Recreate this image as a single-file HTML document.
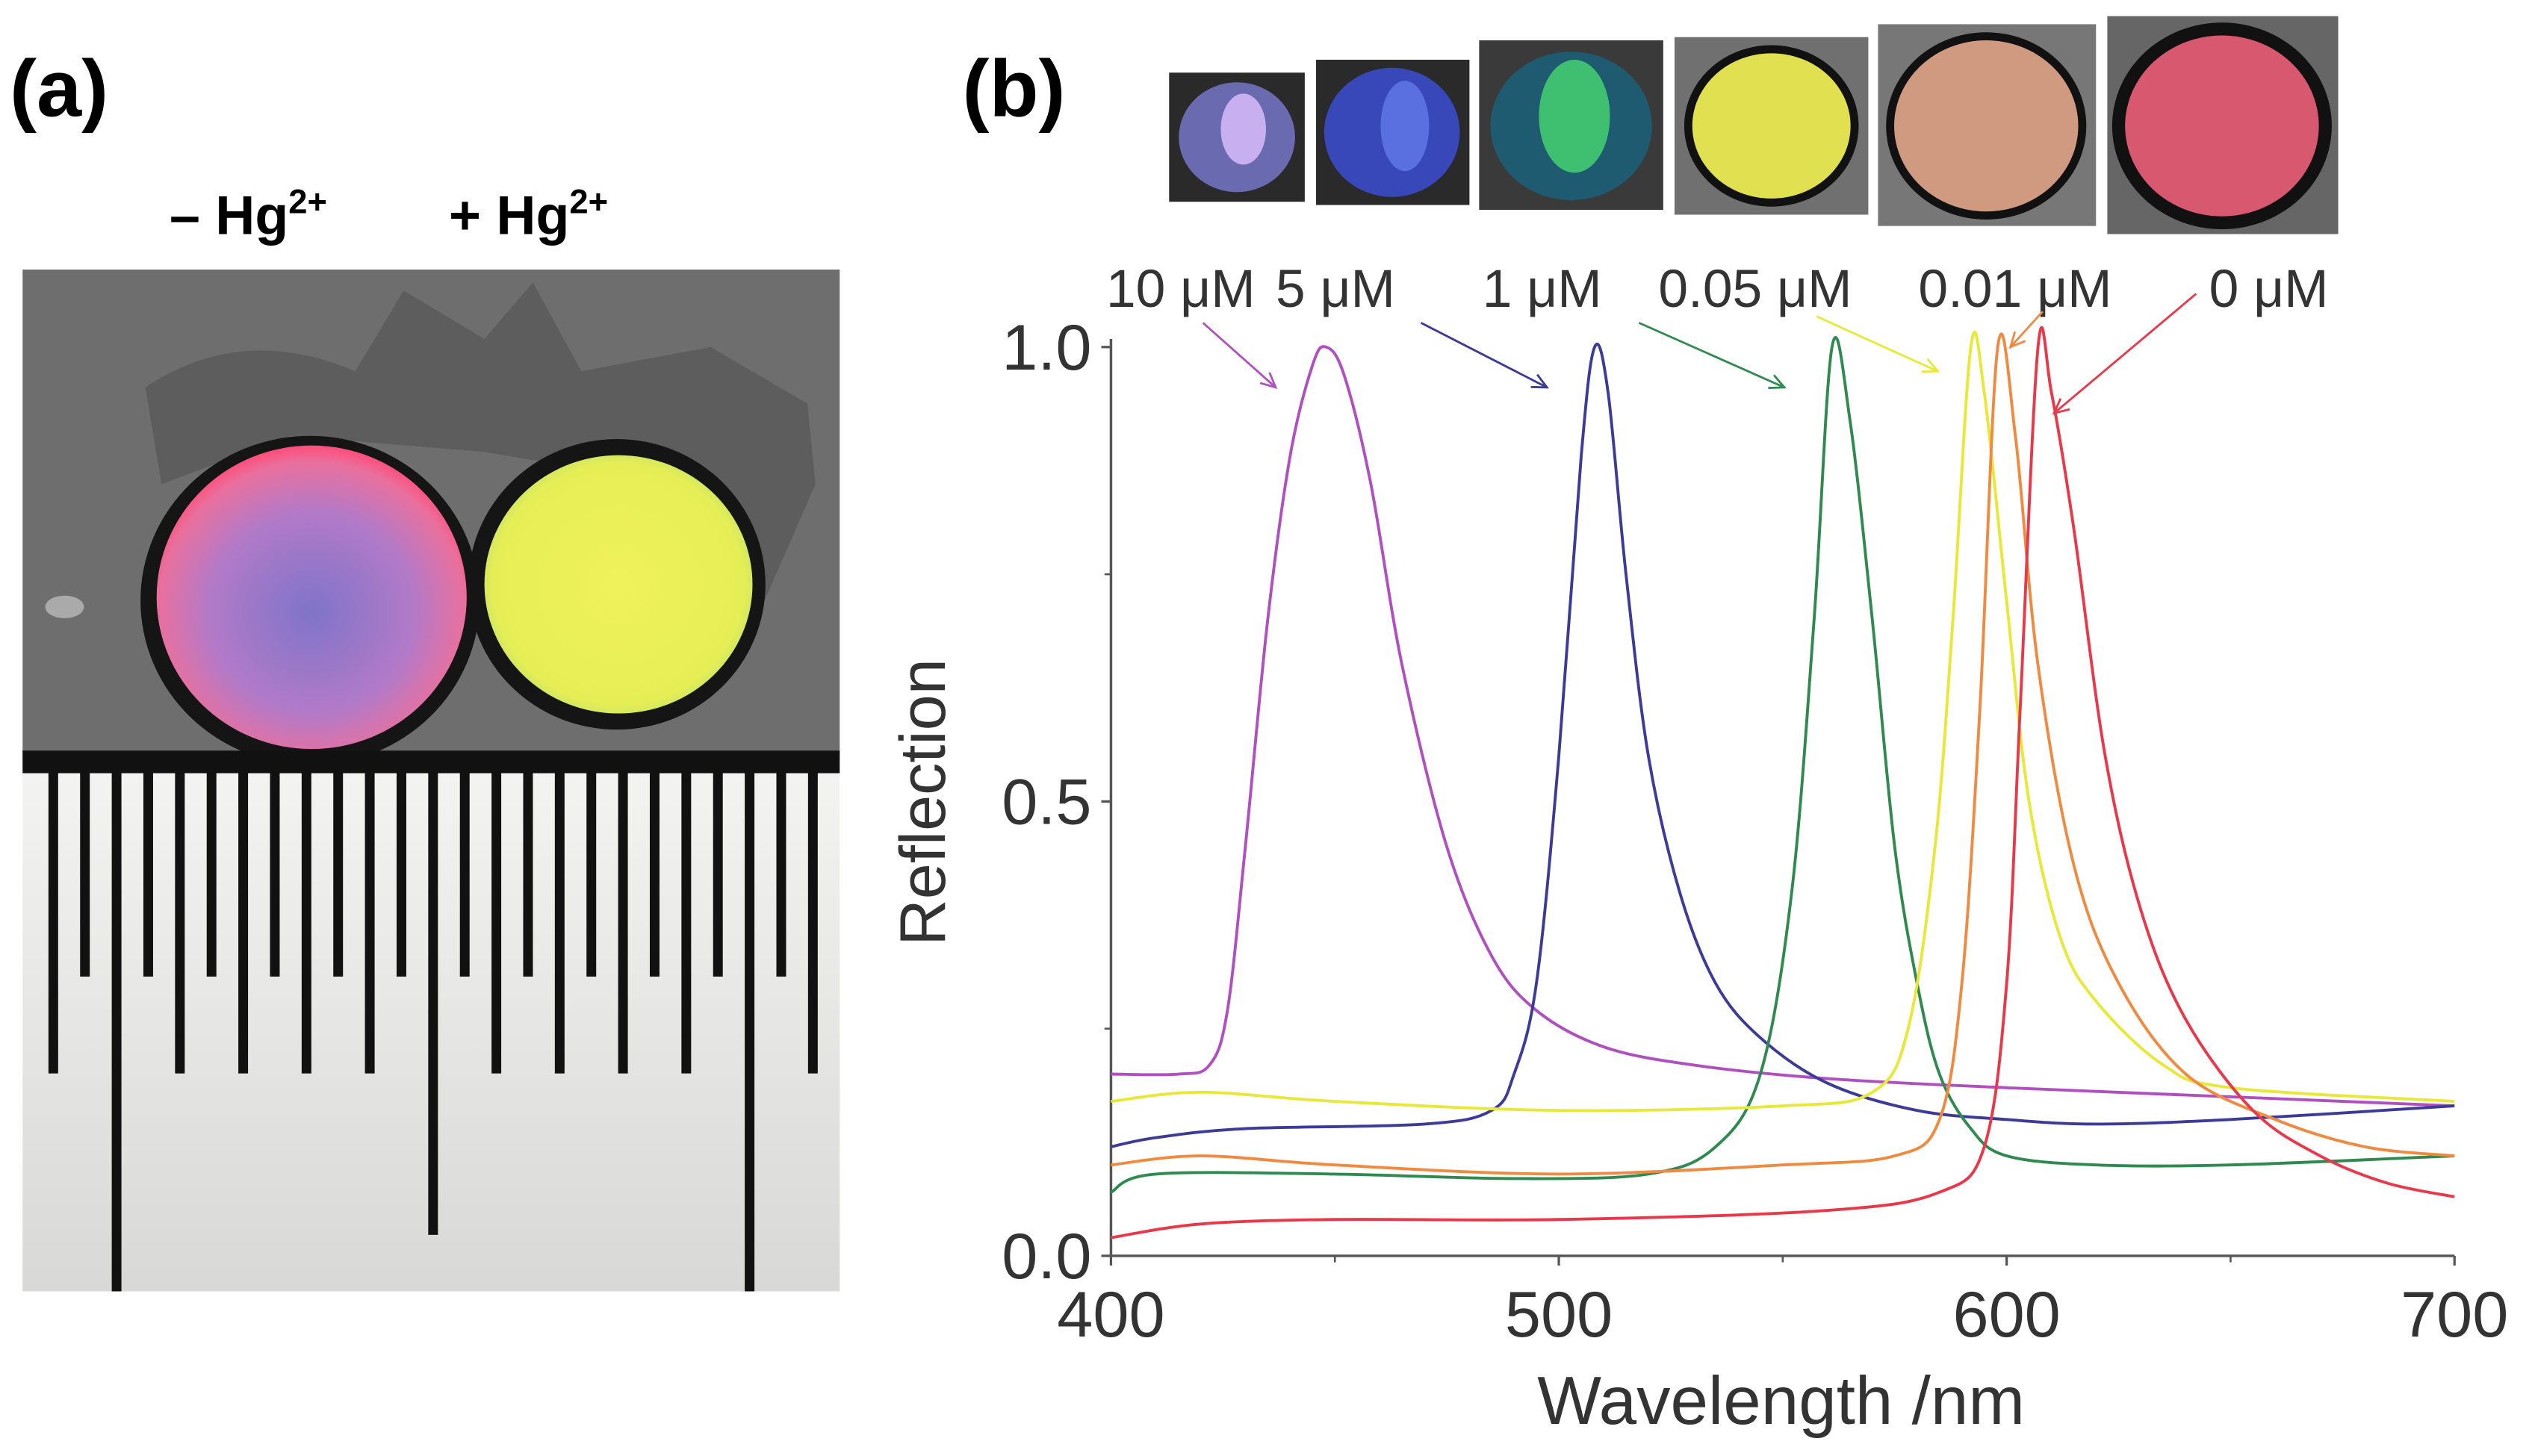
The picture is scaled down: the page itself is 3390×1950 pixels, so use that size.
<!DOCTYPE html>
<html><head><meta charset="utf-8"><style>
html,body{margin:0;padding:0;background:#fff;}
svg{display:block;}
text{font-family:"Liberation Sans",sans-serif;}
</style></head><body>
<svg id="fig" width="3390" height="1950" viewBox="0 0 1568 902" preserveAspectRatio="none" xmlns="http://www.w3.org/2000/svg">
<defs>
<radialGradient id="pinkG" cx="50%" cy="55%" r="55%"><stop offset="0" stop-color="#7f74c8"/><stop offset="0.6" stop-color="#b27ac8"/><stop offset="0.9" stop-color="#e9709e"/><stop offset="1" stop-color="#ff4d7a"/></radialGradient>
<radialGradient id="yelG" cx="50%" cy="50%" r="55%"><stop offset="0" stop-color="#f0f25a"/><stop offset="0.85" stop-color="#e6ee56"/><stop offset="1" stop-color="#b8e070"/></radialGradient>
<linearGradient id="rulerG" x1="0" y1="0" x2="0" y2="1"><stop offset="0" stop-color="#f4f4f2"/><stop offset="1" stop-color="#d8d8d6"/></linearGradient>
</defs>

<text x="6" y="72" font-size="50" font-weight="bold">(a)</text>
<text x="105" y="145" font-size="34" font-weight="bold">– Hg<tspan font-size="21" dy="-13">2+</tspan></text>
<text x="278" y="145" font-size="34" font-weight="bold">+ Hg<tspan font-size="21" dy="-13">2+</tspan></text>

<g>
<rect x="14" y="167" width="506" height="305" fill="#6e6e6e"/>
<path d="M90 240 Q150 200 220 230 L250 180 L300 210 L330 175 L360 230 L440 215 L500 250 L505 300 L470 380 L420 300 L300 280 L180 270 L100 300 Z" fill="#5d5d5d"/>
<ellipse cx="192" cy="372" rx="105" ry="102" fill="#151515"/>
<ellipse cx="382" cy="362" rx="92" ry="90" fill="#151515"/>
<ellipse cx="193" cy="370" rx="96" ry="94" fill="url(#pinkG)"/>
<ellipse cx="383" cy="362" rx="83" ry="80" fill="url(#yelG)"/>
<ellipse cx="40" cy="376" rx="12" ry="7" fill="#aaa"/>
<rect x="14" y="468" width="506" height="332" fill="url(#rulerG)"/>
<rect x="14" y="465" width="506" height="14" fill="#111"/>
<g id="ticks"></g>
</g>

<text x="596" y="72" font-size="50" font-weight="bold">(b)</text>
<g>
<rect x="724" y="45" width="84" height="80" fill="#2a2a2a"/><ellipse cx="766" cy="85" rx="36" ry="34" fill="#6a6ab0"/><ellipse cx="770" cy="80" rx="14" ry="22" fill="#c8b0f0"/>
<rect x="815" y="37" width="95" height="90" fill="#2a2a2a"/><ellipse cx="862" cy="82" rx="42" ry="40" fill="#3848b8"/><ellipse cx="870" cy="78" rx="15" ry="28" fill="#5a70e0"/>
<rect x="916" y="25" width="114" height="105" fill="#3a3a3a"/><ellipse cx="973" cy="78" rx="50" ry="46" fill="#1e5a70"/><ellipse cx="975" cy="72" rx="22" ry="35" fill="#3ec070"/>
<rect x="1037" y="23" width="120" height="110" fill="#707070"/><ellipse cx="1097" cy="78" rx="54" ry="50" fill="#111"/><ellipse cx="1097" cy="78" rx="49" ry="45" fill="#e0e050"/>
<rect x="1163" y="15" width="135" height="125" fill="#777"/><ellipse cx="1230" cy="78" rx="62" ry="58" fill="#111"/><ellipse cx="1230" cy="78" rx="57" ry="53" fill="#d09a80"/>
<rect x="1305" y="10" width="143" height="135" fill="#666"/><ellipse cx="1376" cy="78" rx="68" ry="64" fill="#111"/><ellipse cx="1376" cy="78" rx="60" ry="56" fill="#d85870"/>
</g>

<g id="chart"></g>
</svg>
<script>
const NS="http://www.w3.org/2000/svg";
const seriesNames=["10 μM","5 μM","1 μM","0.05 μM","0.01 μM","0 μM"];
const seriesColors=["#b050c0","#3c3c98","#2f8a4f","#e8e838","#f08a40","#e8384a"];
const wl10=[400,415,422,426,430,435,440,445,448,452,458,465,475,485,495,510,530,560,600,650,700];
const r10=[0.2,0.2,0.21,0.27,0.45,0.7,0.88,0.98,1.0,0.97,0.85,0.65,0.45,0.33,0.27,0.23,0.21,0.195,0.185,0.175,0.165];
const wl5=[400,410,430,470,485,490,495,500,505,508,511,515,520,527,535,545,560,580,600,620,650,700];
const r5=[0.12,0.13,0.14,0.145,0.16,0.2,0.3,0.55,0.88,1.0,0.95,0.75,0.55,0.4,0.3,0.24,0.19,0.16,0.15,0.145,0.15,0.165];
const wl1=[400,410,450,490,520,535,545,552,557,561,565,570,575,580,585,592,600,620,650,700];
const r1=[0.07,0.09,0.09,0.085,0.09,0.12,0.2,0.4,0.7,1.0,0.92,0.7,0.45,0.3,0.2,0.14,0.11,0.1,0.1,0.11];
const wl005=[400,420,450,500,550,570,578,584,588,592,595,600,605,612,620,635,650,700];
const r005=[0.17,0.18,0.17,0.16,0.165,0.18,0.25,0.45,0.7,1.0,0.95,0.72,0.5,0.35,0.28,0.21,0.185,0.17];
const wl001=[400,420,450,500,550,575,585,590,594,598,602,607,615,625,640,660,680,700];
const r001=[0.1,0.11,0.1,0.09,0.1,0.11,0.15,0.3,0.6,1.0,0.9,0.65,0.43,0.3,0.2,0.15,0.12,0.11];
const wl0=[400,420,450,500,560,585,595,600,603,607,610,615,622,630,640,655,670,685,700];
const r0=[0.02,0.035,0.04,0.04,0.05,0.07,0.12,0.3,0.6,1.0,0.95,0.8,0.55,0.38,0.26,0.16,0.11,0.08,0.065];
const xTicks=[400,500,600,700];
const yTicks=[0,0.5,1.0];
const yTickLabels=["0.0","0.5","1.0"];
const series=[[wl10,r10],[wl5,r5],[wl1,r1],[wl005,r005],[wl001,r001],[wl0,r0]];

const X0=688,X1=1520,Y0=778,Y1=215;
function xs(w){return X0+(w-400)*(X1-X0)/300;}
function ys(v){return Y0-v*(Y0-Y1);}
const chart=document.getElementById('chart');
function mk(tag,attrs,parent){const e=document.createElementNS(NS,tag);for(const k in attrs)e.setAttribute(k,attrs[k]);(parent||chart).appendChild(e);return e;}

const tg=document.getElementById('ticks');
for(let i=0;i<25;i++){
  const x=33+i*19.6;
  let end=(i%2===0)?665:605;
  if(i%10===2) end=(i===12)?765:800;
  const t=mk('rect',{x:x-3,y:470,width:6,height:end-470,fill:'#111'},tg);
  
  
}

const ax=mk('path',{d:`M${X0} ${Y1-5} L${X0} ${Y0} L${X1} ${Y0}`,fill:'none',stroke:'#555','stroke-width':1.6});


xTicks.forEach((t,i)=>{
  mk('line',{x1:xs(t),x2:xs(t),y1:Y0,y2:Y0+6,stroke:'#555','stroke-width':1.5});
  if(i<3) mk('line',{x1:xs(t+50),x2:xs(t+50),y1:Y0,y2:Y0+4,stroke:'#555','stroke-width':1.2});
  const tx=mk('text',{x:xs(t),y:828,'font-size':40,'text-anchor':'middle',fill:'#333'});
  tx.textContent=t;
  
  
});
yTicks.forEach((t,i)=>{
  mk('line',{x1:X0-6,x2:X0,y1:ys(t),y2:ys(t),stroke:'#555','stroke-width':1.5});
  if(i<2) mk('line',{x1:X0-4,x2:X0,y1:ys(t+0.25),y2:ys(t+0.25),stroke:'#555','stroke-width':1.2});
  const tx=mk('text',{x:X0-12,y:ys(t)+14,'font-size':40,'text-anchor':'end',fill:'#333'});
  tx.textContent=yTickLabels[i];
  
  
});
const xt=mk('text',{x:1103,y:882,'font-size':42,'text-anchor':'middle',fill:'#333'});
xt.textContent='Wavelength /nm';


const yt=mk('text',{x:0,y:0,'font-size':40,'text-anchor':'middle',fill:'#333',transform:'translate(585,497) rotate(-90)'});
yt.textContent='Reflection';



series.forEach((s,k)=>{
  const p=s[0].map((w,i)=>[xs(w),ys(s[1][i])]);
  let d=`M${p[0][0]} ${p[0][1]}`;
  for(let i=0;i<p.length-1;i++){
    const a=p[Math.max(0,i-1)],b=p[i],c=p[i+1],e=p[Math.min(p.length-1,i+2)];
    d+=` C${b[0]+(c[0]-a[0])/6} ${b[1]+(c[1]-a[1])/6} ${c[0]-(e[0]-b[0])/6} ${c[1]-(e[1]-b[1])/6} ${c[0]} ${c[1]}`;
  }
  const path=mk('path',{d:d,fill:'none',stroke:seriesColors[k],'stroke-width':1.8});
  
  
});

const labelX=[685,790,918,1027,1188,1368];
const arrows=[[745,200,790,240],[880,200,958,240],[1015,200,1105,240],[1125,196,1200,230],[1265,193,1245,215],[1360,182,1272,256]];
seriesNames.forEach((n,k)=>{
  const t=mk('text',{x:labelX[k],y:190,'font-size':33,fill:'#333'});
  t.textContent=n;
  
  
  const a=arrows[k];
  const ln=mk('line',{x1:a[0],y1:a[1],x2:a[2],y2:a[3],stroke:seriesColors[k],'stroke-width':1.3});
  
  
  const ang=Math.atan2(a[3]-a[1],a[2]-a[0]);
  const L=10,W=0.45;
  mk('path',{d:`M${a[2]-L*Math.cos(ang-W)} ${a[3]-L*Math.sin(ang-W)} L${a[2]} ${a[3]} L${a[2]-L*Math.cos(ang+W)} ${a[3]-L*Math.sin(ang+W)}`,fill:'none',stroke:seriesColors[k],'stroke-width':1.3});
});
</script>
</body></html>
